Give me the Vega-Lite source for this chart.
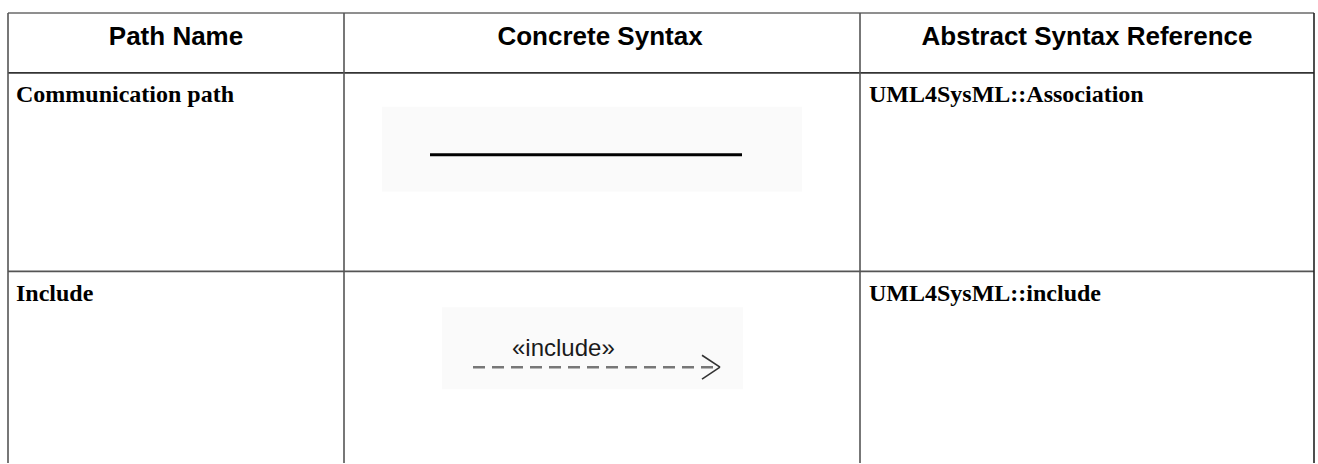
{
  "$schema": "https://vega.github.io/schema/vega-lite/v6.json",
  "width": 1318,
  "height": 464,
  "padding": 0,
  "autosize": {"type": "fit", "contains": "padding"},
  "background": "#ffffff",
  "config": {"view": {"stroke": null}},
  "datasets": {
    "cells": [
      {"row": "header", "column": "Path Name", "text": "Path Name"},
      {"row": "header", "column": "Concrete Syntax", "text": "Concrete Syntax"},
      {"row": "header", "column": "Abstract Syntax Reference", "text": "Abstract Syntax Reference"},
      {"row": "Communication path", "column": "Path Name", "text": "Communication path"},
      {"row": "Communication path", "column": "Abstract Syntax Reference", "text": "UML4SysML::Association"},
      {"row": "Include", "column": "Path Name", "text": "Include"},
      {"row": "Include", "column": "Concrete Syntax", "text": "«include»"},
      {"row": "Include", "column": "Abstract Syntax Reference", "text": "UML4SysML::include"}
    ]
  },
  "layer": [
    {
      "data": {"values": [{"figure": "Communication path"}]},
      "mark": {"type": "rect", "fill": "#fafafa"},
      "encoding": {
        "x": {"datum": 382, "type": "quantitative", "scale": {"domain": [0, 1318], "nice": false, "zero": false}, "axis": null},
        "x2": {"datum": 802},
        "y": {"datum": 107, "type": "quantitative", "scale": {"domain": [0, 464], "nice": false, "zero": false, "reverse": true}, "axis": null},
        "y2": {"datum": 192}
      }
    },
    {
      "data": {"values": [{"figure": "Include"}]},
      "mark": {"type": "rect", "fill": "#fafafa"},
      "encoding": {
        "x": {"datum": 442, "type": "quantitative", "scale": {"domain": [0, 1318], "nice": false, "zero": false}, "axis": null},
        "x2": {"datum": 743},
        "y": {"datum": 308, "type": "quantitative", "scale": {"domain": [0, 464], "nice": false, "zero": false, "reverse": true}, "axis": null},
        "y2": {"datum": 390}
      }
    },
    {
      "data": {"values": [{"border": "table top"}]},
      "mark": {"type": "rule", "stroke": "#6a6a6a", "strokeWidth": 1.6},
      "encoding": {
        "x": {"datum": 8, "type": "quantitative", "scale": {"domain": [0, 1318], "nice": false, "zero": false}, "axis": null},
        "x2": {"datum": 1314},
        "y": {"datum": 13, "type": "quantitative", "scale": {"domain": [0, 464], "nice": false, "zero": false, "reverse": true}, "axis": null}
      }
    },
    {
      "data": {"values": [{"border": "header bottom"}]},
      "mark": {"type": "rule", "stroke": "#333333", "strokeWidth": 1.6},
      "encoding": {
        "x": {"datum": 8, "type": "quantitative", "scale": {"domain": [0, 1318], "nice": false, "zero": false}, "axis": null},
        "x2": {"datum": 1314},
        "y": {"datum": 73, "type": "quantitative", "scale": {"domain": [0, 464], "nice": false, "zero": false, "reverse": true}, "axis": null}
      }
    },
    {
      "data": {"values": [{"border": "row divider"}]},
      "mark": {"type": "rule", "stroke": "#555555", "strokeWidth": 1.6},
      "encoding": {
        "x": {"datum": 8, "type": "quantitative", "scale": {"domain": [0, 1318], "nice": false, "zero": false}, "axis": null},
        "x2": {"datum": 1314},
        "y": {"datum": 272, "type": "quantitative", "scale": {"domain": [0, 464], "nice": false, "zero": false, "reverse": true}, "axis": null}
      }
    },
    {
      "data": {"values": [{"border": "table left"}]},
      "mark": {"type": "rule", "stroke": "#555555", "strokeWidth": 1.6},
      "encoding": {
        "x": {"datum": 8, "type": "quantitative", "scale": {"domain": [0, 1318], "nice": false, "zero": false}, "axis": null},
        "y": {"datum": 13, "type": "quantitative", "scale": {"domain": [0, 464], "nice": false, "zero": false, "reverse": true}, "axis": null},
        "y2": {"datum": 464}
      }
    },
    {
      "data": {"values": [{"border": "column divider 1"}]},
      "mark": {"type": "rule", "stroke": "#555555", "strokeWidth": 1.6},
      "encoding": {
        "x": {"datum": 344, "type": "quantitative", "scale": {"domain": [0, 1318], "nice": false, "zero": false}, "axis": null},
        "y": {"datum": 13, "type": "quantitative", "scale": {"domain": [0, 464], "nice": false, "zero": false, "reverse": true}, "axis": null},
        "y2": {"datum": 464}
      }
    },
    {
      "data": {"values": [{"border": "column divider 2"}]},
      "mark": {"type": "rule", "stroke": "#555555", "strokeWidth": 1.6},
      "encoding": {
        "x": {"datum": 860, "type": "quantitative", "scale": {"domain": [0, 1318], "nice": false, "zero": false}, "axis": null},
        "y": {"datum": 13, "type": "quantitative", "scale": {"domain": [0, 464], "nice": false, "zero": false, "reverse": true}, "axis": null},
        "y2": {"datum": 464}
      }
    },
    {
      "data": {"values": [{"border": "table right"}]},
      "mark": {"type": "rule", "stroke": "#222222", "strokeWidth": 1.6},
      "encoding": {
        "x": {"datum": 1314, "type": "quantitative", "scale": {"domain": [0, 1318], "nice": false, "zero": false}, "axis": null},
        "y": {"datum": 13, "type": "quantitative", "scale": {"domain": [0, 464], "nice": false, "zero": false, "reverse": true}, "axis": null},
        "y2": {"datum": 464}
      }
    },
    {
      "data": {"values": [{"figure": "Communication path line"}]},
      "mark": {"type": "rule", "stroke": "#000000", "strokeWidth": 3},
      "encoding": {
        "x": {"datum": 430, "type": "quantitative", "scale": {"domain": [0, 1318], "nice": false, "zero": false}, "axis": null},
        "x2": {"datum": 742},
        "y": {"datum": 155, "type": "quantitative", "scale": {"domain": [0, 464], "nice": false, "zero": false, "reverse": true}, "axis": null}
      }
    },
    {
      "data": {"values": [{"figure": "Include dashed line"}]},
      "mark": {"type": "rule", "stroke": "#777777", "strokeWidth": 2.5, "strokeDash": [12, 7]},
      "encoding": {
        "x": {"datum": 473, "type": "quantitative", "scale": {"domain": [0, 1318], "nice": false, "zero": false}, "axis": null},
        "x2": {"datum": 716},
        "y": {"datum": 368, "type": "quantitative", "scale": {"domain": [0, 464], "nice": false, "zero": false, "reverse": true}, "axis": null}
      }
    },
    {
      "data": {"values": [{"figure": "Include arrow upper"}]},
      "mark": {"type": "rule", "stroke": "#333333", "strokeWidth": 1.6},
      "encoding": {
        "x": {"datum": 702, "type": "quantitative", "scale": {"domain": [0, 1318], "nice": false, "zero": false}, "axis": null},
        "x2": {"datum": 720},
        "y": {"datum": 356, "type": "quantitative", "scale": {"domain": [0, 464], "nice": false, "zero": false, "reverse": true}, "axis": null},
        "y2": {"datum": 368}
      }
    },
    {
      "data": {"values": [{"figure": "Include arrow lower"}]},
      "mark": {"type": "rule", "stroke": "#333333", "strokeWidth": 1.6},
      "encoding": {
        "x": {"datum": 720, "type": "quantitative", "scale": {"domain": [0, 1318], "nice": false, "zero": false}, "axis": null},
        "x2": {"datum": 702},
        "y": {"datum": 368, "type": "quantitative", "scale": {"domain": [0, 464], "nice": false, "zero": false, "reverse": true}, "axis": null},
        "y2": {"datum": 380}
      }
    },
    {
      "data": {"name": "cells"},
      "transform": [{"filter": "datum.row === 'header' && datum.column === 'Path Name'"}],
      "mark": {"type": "text", "font": "Liberation Sans", "fontWeight": "bold", "fontSize": 26, "align": "center", "baseline": "alphabetic", "color": "#000000"},
      "encoding": {
        "text": {"field": "text"},
        "x": {"datum": 176, "type": "quantitative", "scale": {"domain": [0, 1318], "nice": false, "zero": false}, "axis": null},
        "y": {"datum": 45, "type": "quantitative", "scale": {"domain": [0, 464], "nice": false, "zero": false, "reverse": true}, "axis": null}
      }
    },
    {
      "data": {"name": "cells"},
      "transform": [{"filter": "datum.row === 'header' && datum.column === 'Concrete Syntax'"}],
      "mark": {"type": "text", "font": "Liberation Sans", "fontWeight": "bold", "fontSize": 26, "align": "center", "baseline": "alphabetic", "color": "#000000"},
      "encoding": {
        "text": {"field": "text"},
        "x": {"datum": 600, "type": "quantitative", "scale": {"domain": [0, 1318], "nice": false, "zero": false}, "axis": null},
        "y": {"datum": 45, "type": "quantitative", "scale": {"domain": [0, 464], "nice": false, "zero": false, "reverse": true}, "axis": null}
      }
    },
    {
      "data": {"name": "cells"},
      "transform": [{"filter": "datum.row === 'header' && datum.column === 'Abstract Syntax Reference'"}],
      "mark": {"type": "text", "font": "Liberation Sans", "fontWeight": "bold", "fontSize": 26, "align": "center", "baseline": "alphabetic", "color": "#000000"},
      "encoding": {
        "text": {"field": "text"},
        "x": {"datum": 1087, "type": "quantitative", "scale": {"domain": [0, 1318], "nice": false, "zero": false}, "axis": null},
        "y": {"datum": 45, "type": "quantitative", "scale": {"domain": [0, 464], "nice": false, "zero": false, "reverse": true}, "axis": null}
      }
    },
    {
      "data": {"name": "cells"},
      "transform": [{"filter": "datum.row === 'Communication path' && datum.column === 'Path Name'"}],
      "mark": {"type": "text", "font": "Liberation Serif", "fontWeight": "bold", "fontSize": 24, "align": "left", "baseline": "alphabetic", "color": "#000000"},
      "encoding": {
        "text": {"field": "text"},
        "x": {"datum": 16, "type": "quantitative", "scale": {"domain": [0, 1318], "nice": false, "zero": false}, "axis": null},
        "y": {"datum": 102, "type": "quantitative", "scale": {"domain": [0, 464], "nice": false, "zero": false, "reverse": true}, "axis": null}
      }
    },
    {
      "data": {"name": "cells"},
      "transform": [{"filter": "datum.row === 'Communication path' && datum.column === 'Abstract Syntax Reference'"}],
      "mark": {"type": "text", "font": "Liberation Serif", "fontWeight": "bold", "fontSize": 24, "align": "left", "baseline": "alphabetic", "color": "#000000"},
      "encoding": {
        "text": {"field": "text"},
        "x": {"datum": 869, "type": "quantitative", "scale": {"domain": [0, 1318], "nice": false, "zero": false}, "axis": null},
        "y": {"datum": 102, "type": "quantitative", "scale": {"domain": [0, 464], "nice": false, "zero": false, "reverse": true}, "axis": null}
      }
    },
    {
      "data": {"name": "cells"},
      "transform": [{"filter": "datum.row === 'Include' && datum.column === 'Path Name'"}],
      "mark": {"type": "text", "font": "Liberation Serif", "fontWeight": "bold", "fontSize": 24, "align": "left", "baseline": "alphabetic", "color": "#000000"},
      "encoding": {
        "text": {"field": "text"},
        "x": {"datum": 16, "type": "quantitative", "scale": {"domain": [0, 1318], "nice": false, "zero": false}, "axis": null},
        "y": {"datum": 302, "type": "quantitative", "scale": {"domain": [0, 464], "nice": false, "zero": false, "reverse": true}, "axis": null}
      }
    },
    {
      "data": {"name": "cells"},
      "transform": [{"filter": "datum.row === 'Include' && datum.column === 'Abstract Syntax Reference'"}],
      "mark": {"type": "text", "font": "Liberation Serif", "fontWeight": "bold", "fontSize": 24, "align": "left", "baseline": "alphabetic", "color": "#000000"},
      "encoding": {
        "text": {"field": "text"},
        "x": {"datum": 869, "type": "quantitative", "scale": {"domain": [0, 1318], "nice": false, "zero": false}, "axis": null},
        "y": {"datum": 302, "type": "quantitative", "scale": {"domain": [0, 464], "nice": false, "zero": false, "reverse": true}, "axis": null}
      }
    },
    {
      "data": {"name": "cells"},
      "transform": [{"filter": "datum.row === 'Include' && datum.column === 'Concrete Syntax'"}],
      "mark": {"type": "text", "font": "Liberation Sans", "fontSize": 24, "align": "left", "baseline": "alphabetic", "color": "#1a1a1a"},
      "encoding": {
        "text": {"field": "text"},
        "x": {"datum": 512, "type": "quantitative", "scale": {"domain": [0, 1318], "nice": false, "zero": false}, "axis": null},
        "y": {"datum": 357, "type": "quantitative", "scale": {"domain": [0, 464], "nice": false, "zero": false, "reverse": true}, "axis": null}
      }
    }
  ]
}
